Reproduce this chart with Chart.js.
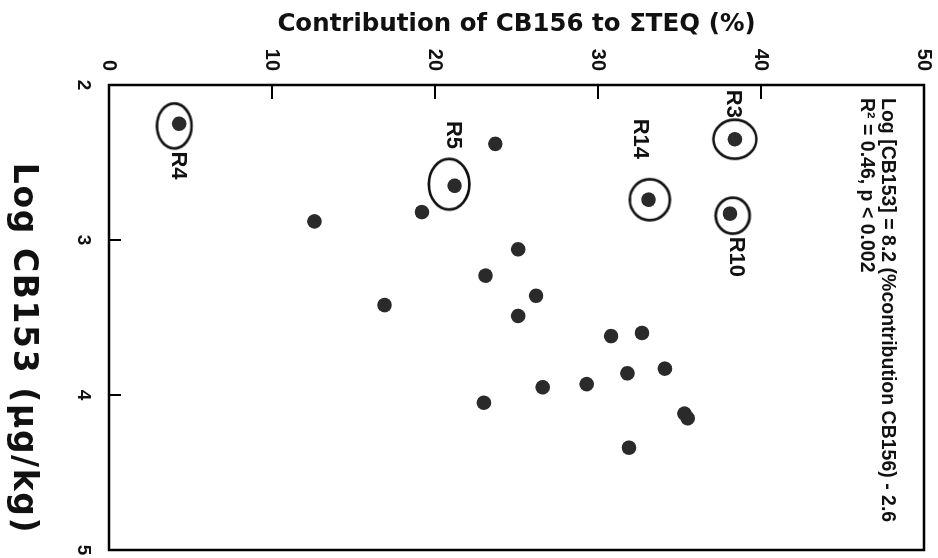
<!DOCTYPE html>
<html><head><meta charset="utf-8">
<script src="https://cdn.jsdelivr.net/npm/chart.js@4.4.1/dist/chart.umd.min.js"></script>
<style>
html,body{margin:0;padding:0;background:#fff;overflow:hidden;width:938px;height:558px;}
#wrap{position:absolute;left:0;top:0;width:558px;height:938px;transform-origin:0 0;transform:translate(938px,0) rotate(90deg);background:#fff;}
canvas{display:block;}
</style></head><body>
<div id="wrap"><canvas id="c" width="558" height="938"></canvas></div>
<script>
// ---- data ----
const contribution = [4.3, 38.4, 21.2, 33.1, 38.1, 23.7, 12.6, 19.2, 25.1, 23.1, 16.9, 26.2, 25.1, 30.8, 32.7, 31.8, 34.1, 29.3, 26.6, 23.0, 35.3, 35.5, 31.9];
const logCB153     = [2.25, 2.35, 2.65, 2.74, 2.83, 2.38, 2.88, 2.82, 3.06, 3.23, 3.42, 3.36, 3.49, 3.62, 3.60, 3.86, 3.83, 3.93, 3.95, 4.05, 4.12, 4.15, 4.34];
const labelNames        = ['R4', 'R5', 'R3', 'R14', 'R10'];
const labelContribution = [4.3, 21.2, 38.4, 33.1, 38.1];
const labelLogCB153     = [2.25, 2.65, 2.35, 2.74, 2.83];
const contributionTicks = [0, 10, 20, 30, 40, 50];
const logTicks          = [2, 3, 4, 5];
const xTitle = 'Log CB153 (\u00b5g/kg)';
const yTitle = 'Contribution of CB156 to \u03a3TEQ (%)';
const annotationLines = ['Log [CB153] = 8.2 (%contribution CB156) - 2.6', 'R\u00b2 = 0.46, p < 0.002'];

// ---- styles ----
const ringShapes = [ // [radiusH, radiusV, shiftH, shiftV]
  [22.5, 17.3, 2.2, 4.8],
  [25.3, 20.3, -1.5, 5.4],
  [19.5, 21.5, 0, 0],
  [20.5, 20, 0, -1.3],
  [18, 17, 2, -2.7]
];
const labelPlacement = [ // [dx, dy, align]
  [27.7, 1, 'left'],
  [-36.7, 1.7, 'right'],
  [-21.3, 2, 'right'],
  [-40.7, 8.7, 'right'],
  [23, -5.7, 'left']
];

function ring(rx, ry, sx, sy, lw) {
  const c = document.createElement('canvas');
  const w = Math.ceil(2 * (rx + Math.abs(sx)) + lw + 4);
  const h = Math.ceil(2 * (ry + Math.abs(sy)) + lw + 4);
  c.width = w; c.height = h;
  const g = c.getContext('2d');
  g.lineWidth = lw; g.strokeStyle = '#111';
  g.beginPath(); g.ellipse(w / 2 + sx, h / 2 + sy, rx, ry, 0, 0, Math.PI * 2); g.stroke();
  return c;
}

function noPad(s) { s.paddingTop = 0; s.paddingBottom = 0; s.paddingLeft = 0; s.paddingRight = 0; }

const overlay = {
  id: 'overlay',
  beforeDatasetsDraw(chart) {
    const {ctx, chartArea: a, scales: {x, y}} = chart;
    ctx.save();
    ctx.strokeStyle = '#000';
    ctx.lineWidth = 2.5;
    ctx.strokeRect(a.left, a.top, a.right - a.left, a.bottom - a.top);
    ctx.lineWidth = 2;
    y.ticks.forEach(t => { const p = y.getPixelForValue(t.value); ctx.beginPath(); ctx.moveTo(a.left, p); ctx.lineTo(a.left + 14, p); ctx.stroke(); });
    x.ticks.forEach(t => { const p = x.getPixelForValue(t.value); ctx.beginPath(); ctx.moveTo(p, a.bottom); ctx.lineTo(p, a.bottom - 12); ctx.stroke(); });
    ctx.restore();
  },
  afterDraw(chart) {
    const {ctx, chartArea: a, scales: {x, y}} = chart;
    ctx.save();
    ctx.fillStyle = '#111';
    // point labels
    ctx.font = 'bold 22px "Liberation Sans", Arial, sans-serif';
    ctx.textBaseline = 'middle';
    labelNames.forEach((n, i) => {
      const px = x.getPixelForValue(labelLogCB153[i]);
      const py = y.getPixelForValue(labelContribution[i]);
      const [dx, dy, al] = labelPlacement[i];
      ctx.textAlign = al;
      ctx.fillText(n, px + dx, py + dy);
    });
    // regression annotation
    ctx.font = 'bold 19.5px "Liberation Sans", Arial, sans-serif';
    ctx.textAlign = 'left';
    ctx.textBaseline = 'alphabetic';
    ctx.fillText(annotationLines[0], a.left + 13, a.top + 42);
    ctx.fillText(annotationLines[1], a.left + 13, a.top + 63);
    // x axis title
    ctx.font = 'bold 33px "DejaVu Sans", sans-serif';
    if ('letterSpacing' in ctx) ctx.letterSpacing = '1.6px';
    ctx.textAlign = 'center';
    ctx.fillText(xTitle, (a.left + a.right) / 2 + 31, a.bottom + 95);
    ctx.restore();
  }
};

new Chart(document.getElementById('c'), {
  type: 'scatter',
  data: {
    datasets: [
      {
        label: 'rings',
        data: labelNames.map((n, i) => ({x: labelLogCB153[i], y: labelContribution[i]})),
        pointStyle: ringShapes.map(r => ring(r[0], r[1], r[2], r[3], 2.7)),
        pointRadius: 20,
        backgroundColor: 'rgba(0,0,0,0)',
        borderColor: '#111'
      },
      {
        label: 'sites',
        data: logCB153.map((v, i) => ({x: v, y: contribution[i]})),
        pointRadius: 7.3,
        pointBorderWidth: 0,
        backgroundColor: '#2a2a2a',
        borderColor: '#2a2a2a'
      }
    ]
  },
  plugins: [overlay],
  options: {
    responsive: false,
    animation: false,
    events: [],
    devicePixelRatio: 1,
    layout: {autoPadding: false, padding: {top: 14, right: 8, left: 0, bottom: 0}},
    plugins: {legend: {display: false}, tooltip: {enabled: false}},
    scales: {
      x: {
        type: 'linear', position: 'bottom', min: 2, max: 5,
        afterBuildTicks: s => { s.ticks = logTicks.map(v => ({value: v})); },
        afterFit: s => { s.height = 109; noPad(s); },
        grid: {display: false, drawTicks: false},
        border: {display: false},
        ticks: {color: '#111', padding: 14, font: {family: '"Liberation Sans", Arial, sans-serif', weight: 'bold', size: 19}}
      },
      y: {
        type: 'linear', position: 'left', min: 0, max: 50,
        afterBuildTicks: s => { s.ticks = contributionTicks.map(v => ({value: v})); },
        afterFit: s => { s.width = 85; noPad(s); },
        grid: {display: false, drawTicks: false},
        border: {display: false},
        ticks: {color: '#111', padding: 14, font: {family: '"Liberation Sans", Arial, sans-serif', weight: 'bold', size: 20}},
        title: {display: true, text: yTitle, color: '#111', padding: {top: 10, bottom: 0}, font: {family: '"DejaVu Sans", sans-serif', weight: 'bold', size: 24.5}}
      }
    }
  }
});
</script>
</body></html>
